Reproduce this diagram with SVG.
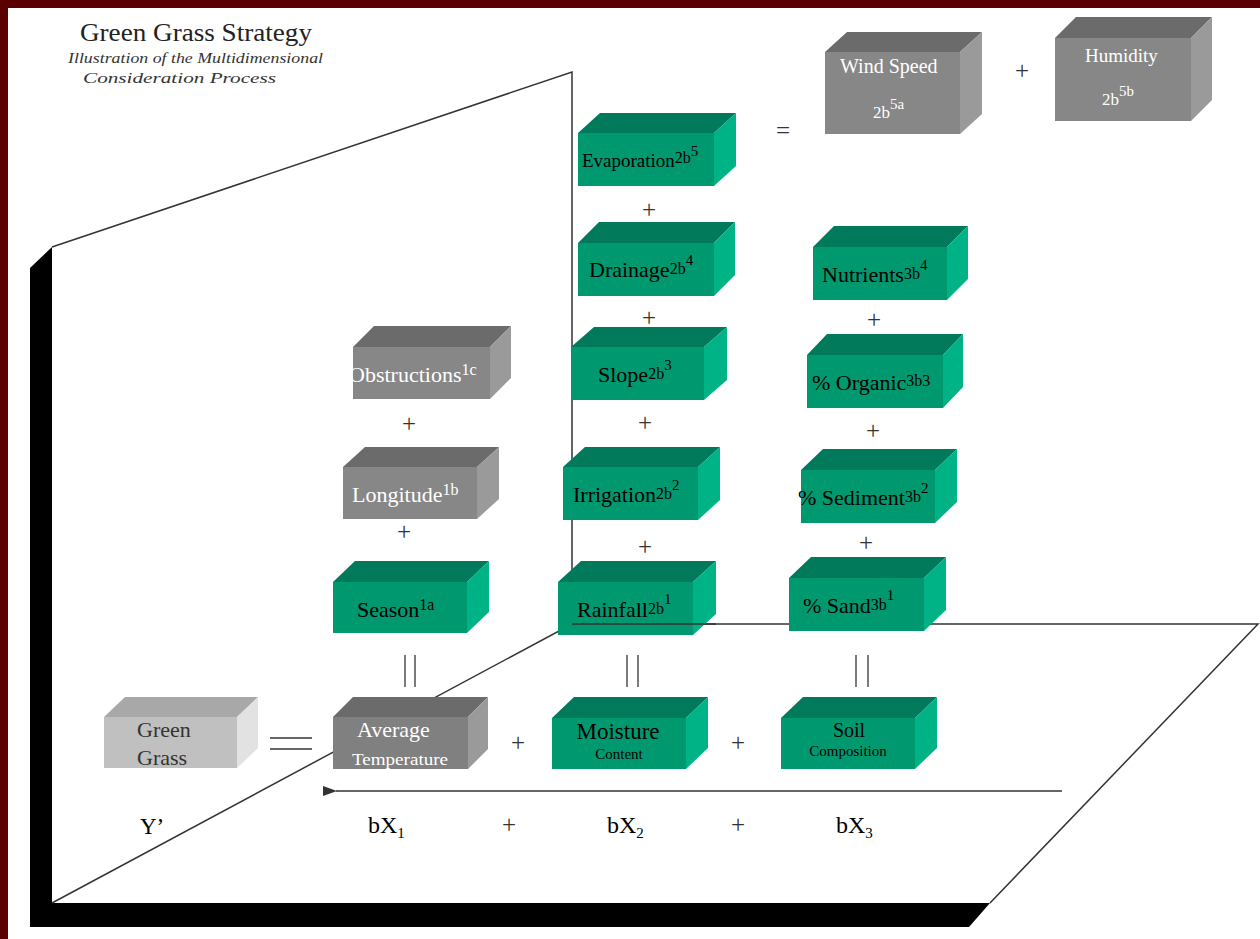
<svg xmlns="http://www.w3.org/2000/svg" width="1260" height="939" viewBox="0 0 1260 939">
<defs>
<style>
.gf{fill:#00996f}.gt{fill:#007a5a}.gr{fill:#00b386}
.yf{fill:#878787}.yt{fill:#6b6b6b}.yr{fill:#9a9a9a}
.lf{fill:#c0c0c0}.lt{fill:#a8a8a8}.lr{fill:#e2e2e2}
.t{font-family:"Liberation Serif","Times New Roman",serif;font-size:22px;fill:#000}
.w{fill:#fff}
.s1{font-size:16px}.s2{font-size:15px}
.ln{stroke:#333;stroke-width:1.5;fill:none}
.pl{font-family:"Liberation Serif","Times New Roman",serif;font-size:25px;fill:#333;text-anchor:middle}
</style>
<marker id="ah" markerWidth="14" markerHeight="10" refX="1" refY="5" orient="auto" markerUnits="userSpaceOnUse">
<path d="M0,5 L14,0 L14,10 Z" fill="#333"/>
</marker>
</defs>
<rect x="0" y="0" width="1260" height="939" fill="#fff"/>
<path d="M0,0 H1260 V8 H8 V939 H0 Z" fill="#5a0000"/>

<g id="title">
<text x="80" y="41" font-family="Liberation Serif, Times New Roman, serif" font-size="25" fill="#222" textLength="232" lengthAdjust="spacingAndGlyphs">Green Grass Strategy</text>
<text x="68" y="63" font-family="Liberation Serif, Times New Roman, serif" font-size="15" font-style="italic" fill="#333" textLength="255" lengthAdjust="spacingAndGlyphs">Illustration of the Multidimensional</text>
<text x="83" y="83" font-family="Liberation Serif, Times New Roman, serif" font-size="15" font-style="italic" fill="#333" textLength="193" lengthAdjust="spacingAndGlyphs">Consideration Process</text>
</g>

<g id="planes">
<path d="M52,247 L30,268 L30,927 L969,927 L990,903 L52,903 Z" fill="#000"/>
<path class="ln" d="M52,247 L572,72 L572,624"/>
<path class="ln" d="M52,903 L572,624 L1258,624 L990,903"/>
</g>

<g id="connectors">
<line class="ln" x1="1062" y1="791" x2="336" y2="791" marker-end="url(#ah)"/>
<line x1="270" y1="738" x2="312" y2="738" stroke="#333" stroke-width="1.3"/>
<line x1="270" y1="749" x2="312" y2="749" stroke="#333" stroke-width="1.3"/>
<line x1="405" y1="655" x2="405" y2="687" stroke="#333" stroke-width="1.3"/>
<line x1="415" y1="655" x2="415" y2="687" stroke="#333" stroke-width="1.3"/>
<line x1="627" y1="655" x2="627" y2="687" stroke="#333" stroke-width="1.3"/>
<line x1="638" y1="655" x2="638" y2="687" stroke="#333" stroke-width="1.3"/>
<line x1="856" y1="655" x2="856" y2="687" stroke="#333" stroke-width="1.3"/>
<line x1="868" y1="655" x2="868" y2="687" stroke="#333" stroke-width="1.3"/>
<text class="pl" x="649" y="218">+</text>
<text class="pl" x="649" y="326">+</text>
<text class="pl" x="645" y="431">+</text>
<text class="pl" x="645" y="555">+</text>
<text class="pl" x="409" y="432">+</text>
<text class="pl" x="404" y="540">+</text>
<text class="pl" x="874" y="328">+</text>
<text class="pl" x="873" y="439">+</text>
<text class="pl" x="866" y="551">+</text>
<text class="pl" x="1022" y="79">+</text>
<text class="pl" x="518" y="751">+</text>
<text class="pl" x="738" y="751">+</text>
<text class="pl" x="509" y="833">+</text>
<text class="pl" x="738" y="833">+</text>
<text class="pl" x="783" y="139">=</text>
</g>

<g id="evaporation">
<polygon class="gt" points="578,133 600,113 736,113 714,133"/>
<polygon class="gr" points="714,133 736,113 736,166 714,186"/>
<rect class="gf" x="578" y="133" width="136" height="53"/>
<text class="t" x="582" y="167" style="font-size:19px">Evaporation<tspan class="s1" dy="-4">2b</tspan><tspan class="s2" dy="-7">5</tspan></text>
</g>

<g id="wind-speed">
<polygon class="yt" points="825,52 847,32 982,32 960,52"/>
<polygon class="yr" points="960,52 982,32 982,114 960,134"/>
<rect class="yf" x="825" y="52" width="135" height="82"/>
<text class="t w" x="840" y="73" style="font-size:20px">Wind  Speed</text>
<text class="t w" x="873" y="118" style="font-size:17px">2b<tspan class="s2" dy="-9">5a</tspan></text>
</g>

<g id="humidity">
<polygon class="yt" points="1055,38 1076,17 1212,17 1191,38"/>
<polygon class="yr" points="1191,38 1212,17 1212,100 1191,121"/>
<rect class="yf" x="1055" y="38" width="136" height="83"/>
<text class="t w" x="1085" y="62" style="font-size:19px">Humidity</text>
<text class="t w" x="1102" y="105" style="font-size:17px">2b<tspan class="s2" dy="-9">5b</tspan></text>
</g>

<g id="drainage">
<polygon class="gt" points="578,243 599,222 735,222 714,243"/>
<polygon class="gr" points="714,243 735,222 735,275 714,296"/>
<rect class="gf" x="578" y="243" width="136" height="53"/>
<text class="t" x="589" y="277">Drainage<tspan class="s1" dy="-3">2b</tspan><tspan class="s2" dy="-9">4</tspan></text>
</g>

<g id="nutrients">
<polygon class="gt" points="813,247 834,226 968,226 947,247"/>
<polygon class="gr" points="947,247 968,226 968,279 947,300"/>
<rect class="gf" x="813" y="247" width="134" height="53"/>
<text class="t" x="822" y="282">Nutrients<tspan class="s1" dy="-3">3b</tspan><tspan class="s2" dy="-9">4</tspan></text>
</g>

<g id="obstructions">
<polygon class="yt" points="353,347 374,326 511,326 490,347"/>
<polygon class="yr" points="490,347 511,326 511,378 490,399"/>
<rect class="yf" x="353" y="347" width="137" height="52"/>
<text class="t w" x="349" y="382">Obstructions<tspan class="s1" dy="-7">1c</tspan></text>
</g>

<g id="slope">
<polygon class="gt" points="571,347 594,327 727,327 704,347"/>
<polygon class="gr" points="704,347 727,327 727,380 704,400"/>
<rect class="gf" x="571" y="347" width="133" height="53"/>
<text class="t" x="598" y="382">Slope<tspan class="s1" dy="-3">2b</tspan><tspan class="s2" dy="-9">3</tspan></text>
</g>

<g id="organic">
<polygon class="gt" points="807,355 827,334 963,334 943,355"/>
<polygon class="gr" points="943,355 963,334 963,387 943,408"/>
<rect class="gf" x="807" y="355" width="136" height="53"/>
<text class="t" x="812" y="390">% Organic<tspan class="s1" dy="-4">3b3</tspan></text>
</g>

<g id="longitude">
<polygon class="yt" points="343,467 365,447 499,447 477,467"/>
<polygon class="yr" points="477,467 499,447 499,499 477,519"/>
<rect class="yf" x="343" y="467" width="134" height="52"/>
<text class="t w" x="352" y="502">Longitude<tspan class="s1" dy="-7">1b</tspan></text>
</g>

<g id="irrigation">
<polygon class="gt" points="563,467 585,447 720,447 698,467"/>
<polygon class="gr" points="698,467 720,447 720,500 698,520"/>
<rect class="gf" x="563" y="467" width="135" height="53"/>
<text class="t" x="573" y="502">Irrigation<tspan class="s1" dy="-3">2b</tspan><tspan class="s2" dy="-9">2</tspan></text>
</g>

<g id="sediment">
<polygon class="gt" points="801,470 823,449 957,449 935,470"/>
<polygon class="gr" points="935,470 957,449 957,502 935,523"/>
<rect class="gf" x="801" y="470" width="134" height="53"/>
<text class="t" x="798" y="505">% Sediment<tspan class="s1" dy="-3">3b</tspan><tspan class="s2" dy="-9">2</tspan></text>
</g>

<g id="season">
<polygon class="gt" points="333,582 355,561 489,561 467,582"/>
<polygon class="gr" points="467,582 489,561 489,612 467,633"/>
<rect class="gf" x="333" y="582" width="134" height="51"/>
<text class="t" x="357" y="617">Season<tspan class="s1" dy="-7">1a</tspan></text>
</g>

<g id="rainfall">
<polygon class="gt" points="558,582 581,561 716,561 693,582"/>
<polygon class="gr" points="693,582 716,561 716,614 693,635"/>
<rect class="gf" x="558" y="582" width="135" height="53"/>
<text class="t" x="577" y="617">Rainfall<tspan class="s1" dy="-3">2b</tspan><tspan class="s2" dy="-10">1</tspan></text>
<line class="ln" x1="572" y1="624" x2="716" y2="624"/>
</g>

<g id="sand">
<polygon class="gt" points="789,578 811,557 946,557 924,578"/>
<polygon class="gr" points="924,578 946,557 946,610 924,631"/>
<rect class="gf" x="789" y="578" width="135" height="53"/>
<text class="t" x="803" y="613">% Sand<tspan class="s1" dy="-3">3b</tspan><tspan class="s2" dy="-10">1</tspan></text>
</g>

<g id="green-grass">
<polygon class="lt" points="104,717 125,697 258,697 237,717"/>
<polygon class="lr" points="237,717 258,697 258,748 237,768"/>
<rect class="lf" x="104" y="717" width="133" height="51"/>
<text class="t" x="137" y="737" style="fill:#333">Green</text>
<text class="t" x="137" y="765" style="fill:#333">Grass</text>
</g>

<g id="average-temperature">
<polygon class="yt" points="333,717 353,697 488,697 468,717"/>
<polygon class="yr" points="468,717 488,697 488,749 468,769"/>
<rect class="yf" x="333" y="717" width="135" height="52" style="fill:#808080"/>
<text class="t w" x="357" y="737">Average</text>
<text class="t w" x="352" y="765" style="font-size:16px" textLength="96" lengthAdjust="spacingAndGlyphs">Temperature</text>
</g>

<g id="moisture-content">
<polygon class="gt" points="552,718 574,697 708,697 686,718"/>
<polygon class="gr" points="686,718 708,697 708,748 686,769"/>
<rect class="gf" x="552" y="718" width="134" height="51"/>
<text class="t" text-anchor="middle" x="618" y="739" style="font-size:23px">Moisture</text>
<text class="t" text-anchor="middle" x="619" y="759" style="font-size:15px">Content</text>
</g>

<g id="soil-composition">
<polygon class="gt" points="781,718 803,697 937,697 915,718"/>
<polygon class="gr" points="915,718 937,697 937,748 915,769"/>
<rect class="gf" x="781" y="718" width="134" height="51"/>
<text class="t" text-anchor="middle" x="849" y="737" style="font-size:20px">Soil</text>
<text class="t" text-anchor="middle" x="848" y="756" style="font-size:15px">Composition</text>
</g>

<g id="axis-labels">
<text class="t" x="140" y="834" style="font-size:23px">Y’</text>
<text class="t" x="368" y="833" style="font-size:24px">bX<tspan font-size="15" dy="5">1</tspan></text>
<text class="t" x="607" y="833" style="font-size:24px">bX<tspan font-size="15" dy="5">2</tspan></text>
<text class="t" x="836" y="833" style="font-size:24px">bX<tspan font-size="15" dy="5">3</tspan></text>
</g>
</svg>
